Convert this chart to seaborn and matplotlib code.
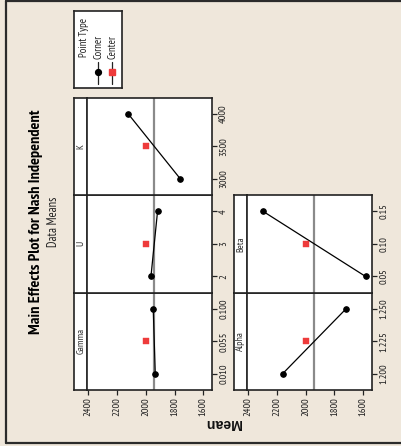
import numpy as np
import pandas as pd
import matplotlib
matplotlib.use("Agg")
import matplotlib.pyplot as plt
from matplotlib import font_manager as fm
from matplotlib.lines import Line2D
import seaborn as sns

# ---------------- data ----------------
factors = ["Gamma", "U", "K", "Alpha", "Beta"]
gamma_levels = ["0.010", "0.055", "0.100"]
u_levels = ["2", "3", "4"]
k_levels = ["3000", "3500", "4000"]
alpha_levels = ["1.200", "1.225", "1.250"]
beta_levels = ["0.05", "0.10", "0.15"]

gamma_corner = [1934, 1948]
u_corner = [1964, 1918]
k_corner = [1760, 2122]
alpha_corner = [2160, 1720]
beta_corner = [1584, 2296]
center_means = [2000, 2000, 2000, 2000, 2000]
grand_mean = 1940

mean_ticks = [2400, 2200, 2000, 1800, 1600]

title = "Main Effects Plot for Nash Independent"
subtitle = "Data Means"
ylabel = "Mean"
legend_title = "Point Type"
legend_labels = ["Corner", "Center"]

# ---------------- style ----------------
sns.set_style("white")
avail = {f.name for f in fm.fontManager.ttflist}
cands = ["PT Sans Narrow", "Roboto Condensed", "Arial Narrow", "Liberation Sans Narrow",
         "Archivo Narrow", "Fira Sans Condensed", "Liberation Sans"]
FONT = next(c for c in cands if c in avail) if any(c in avail for c in cands) else "DejaVu Sans"
FAM = [FONT, "DejaVu Sans"]
plt.rcParams["font.family"] = FAM

BG = "#EFE7DB"
RED = "#EE3B3B"
GRAY_REF = "#8A8A8A"
INK = "#222222"

W, H = 401, 446
fig = plt.figure(figsize=(W / 100, H / 100), dpi=100)
fig.patch.set_facecolor(BG)
renderer = fig.canvas.get_renderer()


def fit(s, target, weight="normal", family=None):
    t = fig.text(0, 0, s, fontsize=10, fontweight=weight, family=family or FAM)
    w = t.get_window_extent(renderer).width
    t.remove()
    return 10 * target / w


FS_TICK = fit("2400", 19)
FS_STRIP = fit("Gamma", 26)
FS_TITLE = fit(title, 225, "bold")
FS_SUB = fit(subtitle, 51)
FS_LEG = fit(legend_title, 39)
FS_MEAN = fit(ylabel, 36, "bold", ["Liberation Sans", "DejaVu Sans"])


def rect(x0, y0, x1, y1):
    return [x0 / W, 1 - y1 / H, (x1 - x0) / W, (y1 - y0) / H]


# outer frame (left, top, bottom edges)
for xs, ys in [([6, 6], [1, 443]), ([6, 401], [1, 1]), ([6, 401], [443, 443])]:
    fig.add_artist(Line2D([x / W for x in xs], [1 - y / H for y in ys],
                          transform=fig.transFigure, color="#2b2b2b", lw=1.6))

COLS = {0: (74, 87.3, 212.3), 1: (234.3, 247, 372.3)}
ROWS = {"K": (97.7, 195), "U": (195, 292.7), "Gamma": (292.7, 390),
        "Beta": (195, 292.7), "Alpha": (292.7, 390)}
spec = {
    "Gamma": (0, gamma_levels, gamma_corner, True),
    "U": (0, u_levels, u_corner, False),
    "K": (0, k_levels, k_corner, False),
    "Alpha": (1, alpha_levels, alpha_corner, True),
    "Beta": (1, beta_levels, beta_corner, False),
}

records = []
for i, f in enumerate(factors):
    col, levels, corner, _ = spec[f]
    records.append(dict(Factor=f, Level=levels[0], pos=0, Mean=corner[0], PointType="Corner"))
    records.append(dict(Factor=f, Level=levels[2], pos=2, Mean=corner[1], PointType="Corner"))
    records.append(dict(Factor=f, Level=levels[1], pos=1, Mean=center_means[i], PointType="Center"))
df = pd.DataFrame(records)

for f in factors:
    col, levels, corner, bottom = spec[f]
    sx0, dx0, dx1 = COLS[col]
    y0, y1 = ROWS[f]

    # strip
    sax = fig.add_axes(rect(sx0, y0, dx0, y1))
    sax.set_facecolor("white")
    sax.set_xticks([]); sax.set_yticks([])
    for s in sax.spines.values():
        s.set_color(INK); s.set_linewidth(1.2)
    sax.spines["right"].set_color("#555555")
    sax.text(0.5, 0.5, f, rotation=90, ha="center", va="center",
             fontsize=FS_STRIP, color="#333333", transform=sax.transAxes)

    # data panel
    ax = fig.add_axes(rect(dx0, y0, dx1, y1))
    ax.set_facecolor("white")
    sub = df[df.Factor == f]
    ax.axvline(grand_mean, color=GRAY_REF, lw=1.6, zorder=1)
    sns.lineplot(data=sub[sub.PointType == "Corner"], x="Mean", y="pos", sort=False,
                 orient="y", color="black", lw=0.9, marker="o", markersize=4,
                 markeredgecolor="black", ax=ax, legend=False, zorder=3)
    sns.scatterplot(data=sub[sub.PointType == "Center"], x="Mean", y="pos",
                    marker="s", s=18, color=RED, edgecolor=RED, linewidth=0.3, ax=ax,
                    legend=False, zorder=4)
    ax.set_xlim(2407, 1537)
    ax.set_ylim(-0.5, 2.5)
    ax.set_xlabel(""); ax.set_ylabel("")
    ax.set_yticks([0, 1, 2])
    ax.set_yticklabels(levels, rotation=90, va="center", fontsize=FS_TICK, color=INK)
    ax.yaxis.tick_right()
    ax.tick_params(axis="y", which="both", right=True, left=False, length=3.5,
                   width=0.9, pad=1.5, color=INK)
    ax.set_xticks(mean_ticks)
    if bottom:
        ax.set_xticklabels([str(t) for t in mean_ticks], rotation=90, fontsize=FS_TICK,
                           color=INK)
        ax.tick_params(axis="x", bottom=True, length=3.5, width=0.9, pad=1.5, color=INK)
    else:
        ax.set_xticklabels([])
        ax.tick_params(axis="x", bottom=False, length=0)
    for s in ax.spines.values():
        s.set_color(INK); s.set_linewidth(1.2)

# titles
fig.text(36 / W, 1 - 222 / H, title, rotation=90, ha="center", va="center",
         fontsize=FS_TITLE, fontweight="bold", color="black")
fig.text(53 / W, 1 - 222 / H, subtitle, rotation=90, ha="center", va="center",
         fontsize=FS_SUB, color=INK)
fig.text(223 / W, 1 - 423 / H, ylabel, rotation=180, ha="center", va="center",
         fontsize=FS_MEAN, fontweight="bold", color="#111111",
         family=["Liberation Sans", "DejaVu Sans"])

# legend box (rotated)
lax = fig.add_axes(rect(74, 11, 122.3, 87.7))
lax.set_facecolor("white")
lax.set_xlim(74, 122.3); lax.set_ylim(87.7, 11)
lax.set_xticks([]); lax.set_yticks([])
for s in lax.spines.values():
    s.set_color(INK); s.set_linewidth(1.2)
lax.text(84, 57, legend_title, rotation=90, ha="center", va="bottom",
         fontsize=FS_LEG, color=INK)
for xx, lab, mk, colr, ms in [(98, legend_labels[0], "o", "black", 4.2),
                               (112.5, legend_labels[1], "s", RED, 4.8)]:
    lax.plot([xx, xx], [62, 84], color=INK, lw=0.9)
    lax.plot([xx], [72.5], marker=mk, color=colr, markersize=ms, markeredgecolor=colr)
    lax.text(xx, 59, lab, rotation=90, ha="center", va="bottom",
             fontsize=FS_LEG, color=INK)

fig.savefig("out.png", dpi=100, facecolor=BG)
